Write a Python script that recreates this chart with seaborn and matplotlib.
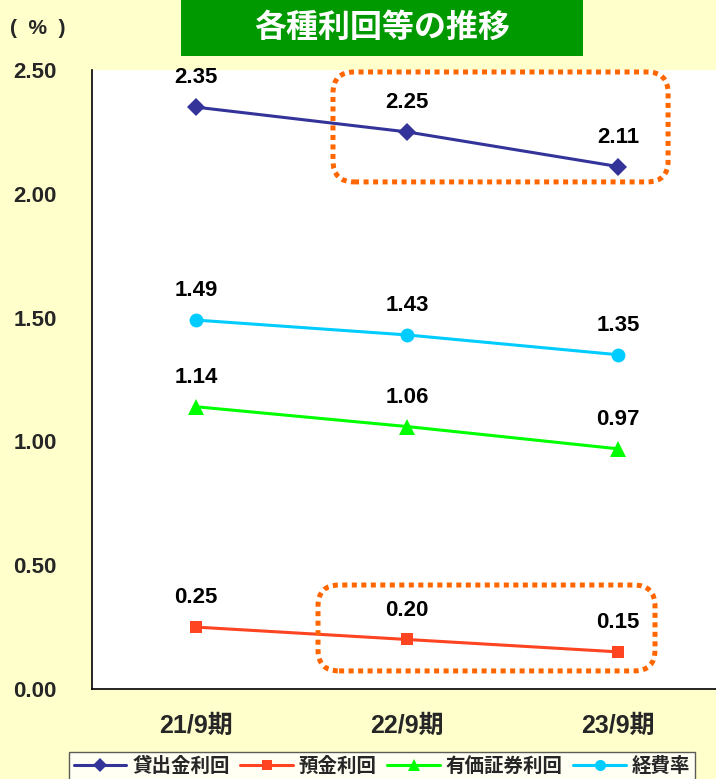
import pandas as pd
import matplotlib.pyplot as plt
import seaborn as sns
from matplotlib.patches import Rectangle, FancyBboxPatch
from matplotlib.lines import Line2D

# data
periods = ['21/9期', '22/9期', '23/9期']
series_names = ['貸出金利回', '預金利回', '有価証券利回', '経費率']
loan_yield = [2.35, 2.25, 2.11]
deposit_rate = [0.25, 0.20, 0.15]
securities_yield = [1.14, 1.06, 0.97]
expense_ratio = [1.49, 1.43, 1.35]

colors = ['#333399', '#FF4422', '#00FF00', '#00CCFF']
markers = ['D', 's', '^', 'o']
msizes = [9, 9, 11, 10]

rows = []
for name, vals in zip(series_names, [loan_yield, deposit_rate, securities_yield, expense_ratio]):
    for i, v in enumerate(vals):
        rows.append({'period': i, 'label': periods[i], 'series': name, 'value': v})
df = pd.DataFrame(rows)

sns.set_style('white')
plt.rcParams['font.family'] = ['Liberation Sans', 'Noto Sans CJK JP', 'DejaVu Sans']

fig = plt.figure(figsize=(7.16, 7.79), dpi=100, facecolor='#FFFFCC')
ax = fig.add_axes([92 / 716, 1 - 689 / 779, 1 - 92 / 716, (689 - 70) / 779])
ax.set_facecolor('white')

sns.lineplot(data=df, x='period', y='value', hue='series', style='series',
             palette=dict(zip(series_names, colors)),
             markers=dict(zip(series_names, markers)),
             dashes=False, linewidth=2.2, markeredgewidth=0,
             legend=False, ax=ax)
for line, ms in zip(ax.get_lines(), msizes):
    line.set_markersize(ms)

# value labels
for name, vals in zip(series_names, [loan_yield, deposit_rate, securities_yield, expense_ratio]):
    for i, v in enumerate(vals):
        ax.annotate(f'{v:.2f}', (i, v), xytext=(0, 21), textcoords='offset points',
                    ha='center', va='center', fontsize=16, fontweight='bold',
                    color='black')

ax.set_xlim(-0.493, 2.464)
ax.set_ylim(0, 2.5)
ax.set_yticks([0, 0.5, 1.0, 1.5, 2.0, 2.5])
ax.set_yticklabels([f'{t:.2f}' for t in [0, 0.5, 1.0, 1.5, 2.0, 2.5]], fontsize=16,
                   fontweight='bold')
ax.set_xticks([0, 1, 2])
ax.set_xticklabels(periods, fontsize=18, fontweight='bold')
ax.set_xticks([0.5, 1.5], minor=True)
ax.tick_params(axis='x', which='major', length=0, pad=18)
ax.tick_params(axis='x', which='minor', direction='in', length=6, width=0.8)
ax.tick_params(axis='y', direction='in', length=7, width=0.8, pad=41)
for lab in ax.get_yticklabels():
    lab.set_horizontalalignment('center')
ax.set_xlabel('')
ax.set_ylabel('')
for s in ['top', 'right']:
    ax.spines[s].set_visible(False)
for s in ['left', 'bottom']:
    ax.spines[s].set_color('black')
    ax.spines[s].set_linewidth(1.2)

# dotted highlight boxes
for (x0, x1, y0, y1) in [(0.649, 2.237, 2.048, 2.492), (0.578, 2.175, 0.073, 0.42)]:
    box = FancyBboxPatch((x0, y0), x1 - x0, y1 - y0,
                         boxstyle='round,pad=0,rounding_size=0.1',
                         mutation_aspect=211 / 247.6,
                         fill=False, edgecolor='#FF6600', linewidth=3.6,
                         linestyle=(0, (1, 0.9)), clip_on=False, zorder=5)
    ax.add_patch(box)

# unit and title
fig.text(38 / 716, 1 - 28 / 779, '(  %  )', ha='center', va='center', fontsize=15,
         fontweight='bold')
fig.patches.append(Rectangle((181 / 716, 1 - 56 / 779), (583 - 181) / 716, 56 / 779,
                             transform=fig.transFigure, facecolor='#009900',
                             edgecolor='none'))
fig.text(382 / 716, 1 - 29 / 779, '各種利回等の推移', ha='center', va='center',
         fontsize=23, fontweight='bold', color='white')

# legend
handles = [Line2D([], [], color=c, marker=m, markersize=ms * 0.8, linewidth=2.2,
                  markeredgewidth=0) for c, m, ms in zip(colors, markers, msizes)]
leg = fig.legend(handles, series_names, loc='upper left',
                 bbox_to_anchor=(69 / 716, 1 - 752 / 779), ncol=4,
                 prop={'size': 14, 'weight': 'bold'}, frameon=True, fancybox=False,
                 handlelength=2.7, handletextpad=0.3, columnspacing=0.55,
                 borderpad=0.25, borderaxespad=0)
leg.get_frame().set_edgecolor('#333333')
leg.get_frame().set_linewidth(1.0)
leg.get_frame().set_facecolor('white')

fig.savefig('out.png', dpi=100, facecolor=fig.get_facecolor())
